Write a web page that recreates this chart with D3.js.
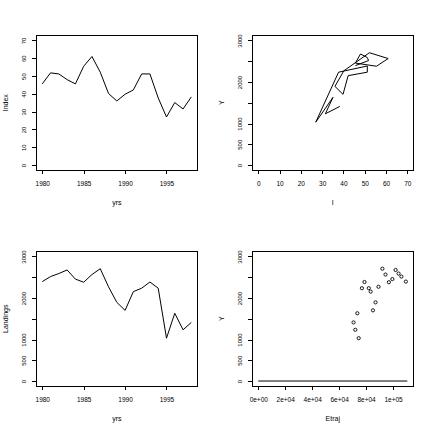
<!DOCTYPE html>
<html>
<head>
<meta charset="utf-8">
<script src="https://cdn.jsdelivr.net/npm/d3@7"></script>
<style>
  body { margin: 0; background: #fff; }
  svg { display: block; background: #fff; }
  text { font-family: "Liberation Sans", Arial, Helvetica, sans-serif; fill: #000; }
</style>
</head>
<body>
<svg id="chart" width="432" height="432"></svg>
<script>
// data
const years = [1980, 1981, 1982, 1983, 1984, 1985, 1986, 1987, 1988, 1989,
  1990, 1991, 1992, 1993, 1994, 1995, 1996, 1997, 1998]
const index = [45.6, 51.8, 51.2, 48.0, 45.6, 55.5, 61.0, 52.2, 40.2, 36.0,
  39.8, 42.2, 51.2, 51.2, 37.7, 27.0, 35.1, 31.5, 38.3]
const landings = [2395, 2516, 2589, 2675, 2455, 2380, 2565, 2705, 2270, 1895,
  1702, 2153, 2236, 2385, 2236, 1032, 1632, 1234, 1411]
const effort = [109500, 106200, 104100, 101900, 99500, 96900, 94400, 92100, 89200, 87000,
  85100, 83400, 82000, 78800, 76900, 74500, 73500, 72000, 70700]
const zeroLineE = [0, 110600]
const zeroLineY = [0, 0]

const yearTicks = [1980, 1985, 1990, 1995]
const indexTicks = [0, 10, 20, 30, 40, 50, 60, 70]
const landingTicks = [0, 500, 1000, 1500, 2000, 2500, 3000]
const landingTickLabels = ['0', '500', '1000', '', '2000', '', '3000']
const effortTicks = [0, 20000, 40000, 60000, 80000, 100000]
const effortTickLabels = ['0e+00', '2e+04', '4e+04', '6e+04', '8e+04', '1e+05']

const svg = d3.select('#chart')
const cell = 216
const box = { l: 36.3, r: 197.3, t: 35.5, b: 170 }
// R style 4% axis extension
const pad = ([a, b]) => { const d = (b - a) * 0.04; return [a - d, b + d] }

function panel({ col, row, xlim, ylim, xticks, xlabels, yticks, ylabels, xtitle, ytitle, draw }) {
  const g = svg.append('g').attr('transform', `translate(${col * cell},${row * cell})`)
  const x = d3.scaleLinear().domain(pad(xlim)).range([box.l, box.r])
  const y = d3.scaleLinear().domain(pad(ylim)).range([box.b, box.t])

  const xa = g.append('g')
    .attr('transform', `translate(0,${box.b})`)
    .call(d3.axisBottom(x).tickValues(xticks).tickSize(4).tickFormat((d, i) => xlabels[i]))
  xa.select('.domain').remove()
  xa.selectAll('line').attr('stroke', '#000').attr('shape-rendering', 'crispEdges')
  xa.selectAll('text')
    .attr('y', 14).attr('dy', '0.35em')
    .attr('font-size', 6.5)

  const ya = g.append('g')
    .attr('transform', `translate(${box.l},0)`)
    .call(d3.axisLeft(y).tickValues(yticks).tickSize(4).tickFormat((d, i) => ylabels[i]))
  ya.select('.domain').remove()
  ya.selectAll('line').attr('stroke', '#000').attr('shape-rendering', 'crispEdges')
  ya.selectAll('text')
    .attr('x', 0).attr('dy', '0.35em')
    .attr('text-anchor', 'middle')
    .attr('transform', 'translate(-12.3,0) rotate(-90)')
    .attr('font-size', 6)

  g.append('text')
    .attr('x', (box.l + box.r) / 2).attr('y', box.b + 32.7)
    .attr('dy', '0.35em').attr('text-anchor', 'middle')
    .attr('font-size', 7)
    .text(xtitle)
  g.append('text')
    .attr('transform', `translate(${box.l - 30.6},${(box.t + box.b) / 2}) rotate(-90)`)
    .attr('dy', '0.35em').attr('text-anchor', 'middle')
    .attr('font-size', 7)
    .text(ytitle)

  const plot = g.append('g')
  draw(plot, x, y)

  g.append('rect')
    .attr('x', box.l).attr('y', box.t)
    .attr('width', box.r - box.l).attr('height', box.b - box.t)
    .attr('fill', 'none').attr('stroke', '#000').attr('stroke-width', 1)
    .attr('shape-rendering', 'crispEdges')
}

const pathLine = (plot, x, y, xs, ys) => {
  const line = d3.line().x(i => x(xs[i])).y(i => y(ys[i]))
  plot.append('path')
    .attr('d', line(xs.map((_, i) => i)))
    .attr('fill', 'none').attr('stroke', '#000').attr('stroke-width', 1)
}

panel({
  col: 0, row: 0, xlim: [1980, 1998], ylim: [0, 70],
  xticks: yearTicks, xlabels: yearTicks.map(String),
  yticks: indexTicks, ylabels: indexTicks.map(String),
  xtitle: 'yrs', ytitle: 'Index',
  draw: (p, x, y) => pathLine(p, x, y, years, index)
})

panel({
  col: 1, row: 0, xlim: [0, 70], ylim: [0, 3000],
  xticks: indexTicks, xlabels: indexTicks.map(String),
  yticks: landingTicks, ylabels: landingTickLabels,
  xtitle: 'I', ytitle: 'Y',
  draw: (p, x, y) => pathLine(p, x, y, index, landings)
})

panel({
  col: 0, row: 1, xlim: [1980, 1998], ylim: [0, 3000],
  xticks: yearTicks, xlabels: yearTicks.map(String),
  yticks: landingTicks, ylabels: landingTickLabels,
  xtitle: 'yrs', ytitle: 'Landings',
  draw: (p, x, y) => pathLine(p, x, y, years, landings)
})

panel({
  col: 1, row: 1, xlim: [0, 110600], ylim: [0, 3000],
  xticks: effortTicks, xlabels: effortTickLabels,
  yticks: landingTicks, ylabels: landingTickLabels,
  xtitle: 'Etraj', ytitle: 'Y',
  draw: (p, x, y) => {
    p.selectAll('circle')
      .data(effort.map((e, i) => ({ e, l: landings[i] })))
      .join('circle')
      .attr('cx', d => x(d.e)).attr('cy', d => y(d.l))
      .attr('r', 1.6)
      .attr('fill', 'none').attr('stroke', '#000').attr('stroke-width', 0.9)
    pathLine(p, x, y, zeroLineE, zeroLineY)
  }
})
</script>
</body>
</html>
